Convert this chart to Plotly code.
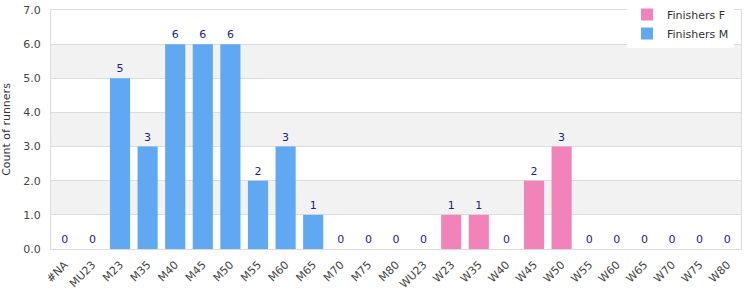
import plotly.graph_objects as go

categories = ["#NA", "MU23", "M23", "M35", "M40", "M45", "M50", "M55", "M60", "M65",
              "M70", "M75", "M80", "WU23", "W23", "W35", "W40", "W45", "W50", "W55",
              "W60", "W65", "W70", "W75", "W80"]
finishers_m = [0, 0, 5, 3, 6, 6, 6, 2, 3, 1, 0, 0, 0, None, None, None, None, None, None,
               None, None, None, None, None, None]
finishers_f = [None, None, None, None, None, None, None, None, None, None, None, None, None,
               0, 1, 1, 0, 2, 3, 0, 0, 0, 0, 0, 0]

y_ticks = [0, 1, 2, 3, 4, 5, 6, 7]
bands = [(1, 2), (3, 4), (5, 6)]

FONT = "DejaVu Sans"
LABEL_COLOR = "#1c1c8c"

fig = go.Figure()
fig.add_trace(go.Bar(
    x=categories, y=finishers_f, name="Finishers F",
    marker=dict(color="#f283b8", line=dict(width=0)),
    text=[None if v is None else str(v) for v in finishers_f],
    textposition="outside", cliponaxis=False,
    textfont=dict(color=LABEL_COLOR, size=11, family=FONT),
))
fig.add_trace(go.Bar(
    x=categories, y=finishers_m, name="Finishers M",
    marker=dict(color="#60a8f2", line=dict(width=0)),
    text=[None if v is None else str(v) for v in finishers_m],
    textposition="outside", cliponaxis=False,
    textfont=dict(color=LABEL_COLOR, size=11, family=FONT),
))

for lo, hi in bands:
    fig.add_shape(type="rect", xref="paper", yref="y", x0=0, x1=1, y0=lo, y1=hi,
                  fillcolor="#f2f2f2", line=dict(width=0), layer="below")

fig.update_layout(
    width=750, height=300,
    margin=dict(l=51, r=9, t=10, b=51, autoexpand=False),
    barmode="overlay",
    bargap=0.27,
    plot_bgcolor="white", paper_bgcolor="white",
    font=dict(family=FONT, size=11, color="#444"),
    showlegend=True,
    legend=dict(xref="container", yref="container", x=0.836, y=1.0,
                xanchor="left", yanchor="top",
                bgcolor="white", borderwidth=0, traceorder="normal",
                font=dict(size=11, color="#333"),
                itemwidth=30, tracegroupgap=0),
    xaxis=dict(type="category", categoryorder="array", categoryarray=categories,
               tickangle=-45, tickfont=dict(size=11, color="#444"),
               showgrid=False, showline=True, linecolor="#dcdcdc", mirror=True,
               ticks="", ticklabelstandoff=4),
    yaxis=dict(range=[0, 7], tickvals=y_ticks, tickformat=".1f",
               tickfont=dict(size=11, color="#444"),
               showgrid=True, gridcolor="#dcdcdc", zeroline=False,
               showline=True, linecolor="#dcdcdc", mirror=True,
               ticks="", ticklabelstandoff=7,
               title=dict(text="Count of runners", font=dict(size=11, color="#333"), standoff=12)),
)

fig.write_html("out.html")
